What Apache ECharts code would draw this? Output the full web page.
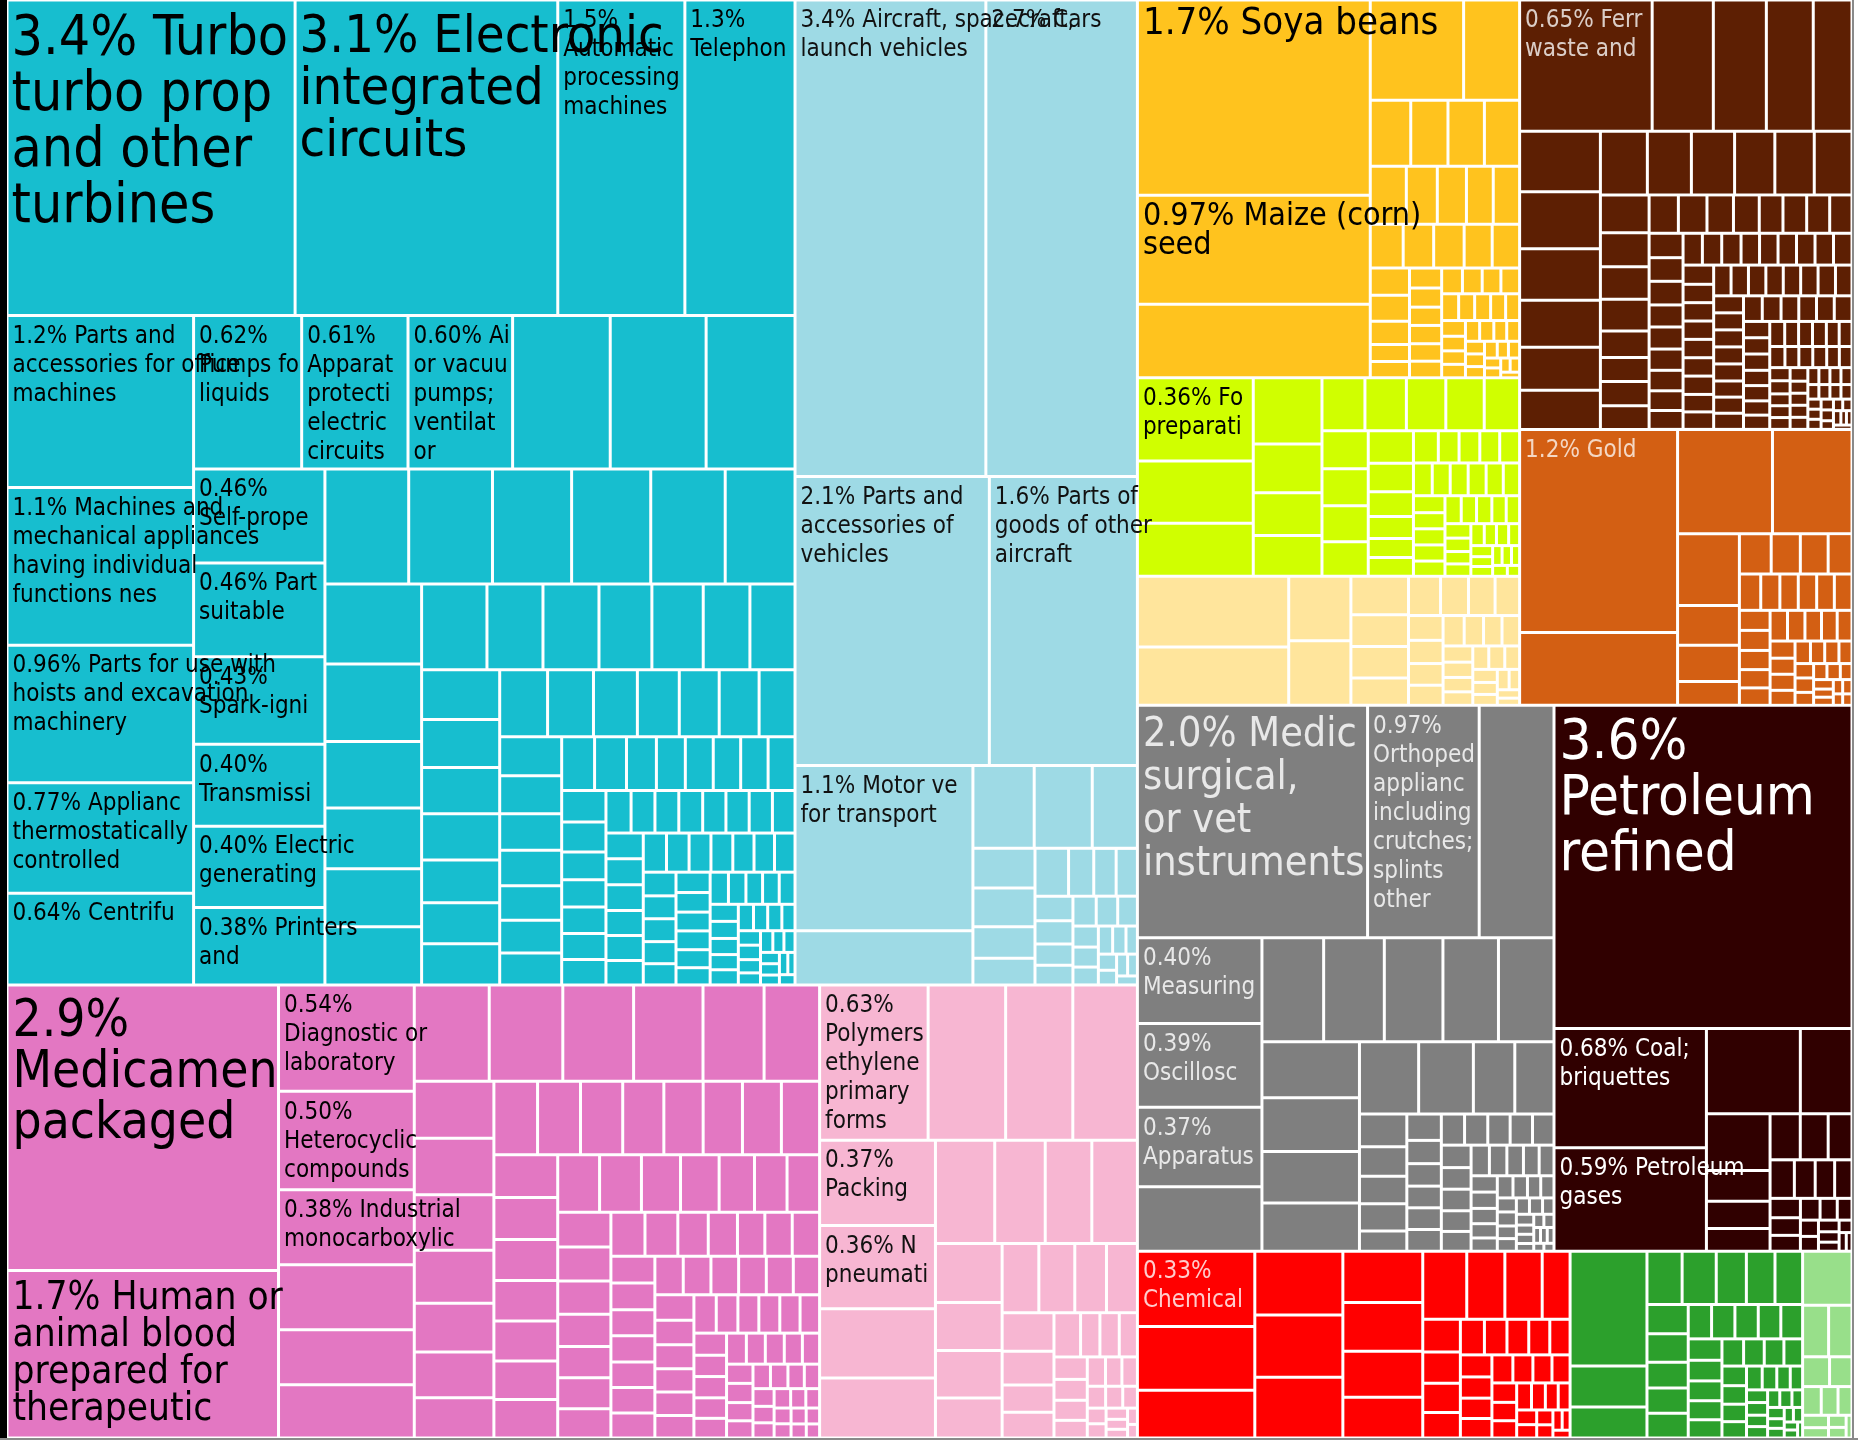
<!DOCTYPE html>
<html><head><meta charset="utf-8">
<script src="https://cdn.jsdelivr.net/npm/echarts@6/dist/echarts.min.js"></script>
<style>
html,body{margin:0;padding:0;background:#fff;}
#chart{position:absolute;left:0;top:0;width:1858px;height:1440px;}
#lb{position:absolute;left:0;top:0;width:7px;height:1440px;background:#000;z-index:5;}
#rb{position:absolute;left:1852px;top:0;width:2px;height:1440px;background:#8a8a8a;z-index:5;}
#bb{position:absolute;left:0;top:1438px;width:1858px;height:2px;background:#8a8a8a;z-index:5;}
</style></head><body>
<div id="chart"></div><div id="lb"></div><div id="rb"></div><div id="bb"></div>
<script>
// ---------- DATA (values = % of total exports; labeled cells first) ----------
const machineryNames = ['3.4% Turbo-jets,\nturbo propellers\nand other gas\nturbines','3.1% Electronic\nintegrated\ncircuits','1.5%\nAutomatic data\nprocessing\nmachines','1.3%\nTelephones','1.2% Parts and\naccessories for office\nmachines','1.1% Machines and\nmechanical appliances\nhaving individual\nfunctions nes','0.96% Parts for use with\nhoists and excavation\nmachinery','0.77% Appliances\nthermostatically\ncontrolled','0.64% Centrifuges','0.62%\nPumps for\nliquids','0.61%\nApparatus for\nprotecting\nelectrical\ncircuits','0.60% Air\nor vacuum\npumps;\nventilating\nor','0.46%\nSelf-propelled','0.46% Parts\nsuitable','0.43%\nSpark-ignition','0.40%\nTransmission','0.40% Electric\ngenerating','0.38% Printers\nand'];
const machineryValues = [3.4,3.1,1.5,1.3,1.2,1.1,0.96,0.77,0.64,0.62,0.61,0.60,0.462,0.46,0.43,0.402,0.40,0.38,
 0.56,0.55,0.51,0.36,0.36,0.34,0.34,0.32,0.30,0.29,0.28,0.24,0.22,0.21,0.21,0.21,0.18,0.18,0.17,0.165,0.15,0.145,
 0.145,0.14,0.135,0.135,0.125,0.12,0.12,0.12,0.115,0.11,0.105,0.1,0.1,0.09,0.09,0.088,0.085,0.082,0.08,
 0.076,0.074,0.066,0.064,0.06,0.058,0.056,0.055,0.055,0.054,0.052,0.05,0.046,0.045,0.044,0.043,0.042,0.04,0.038,
 0.038,0.038,0.037,0.037,0.036,0.036,0.035,0.037,0.036,0.036,0.035,0.034,0.034,0.033,0.032,0.032,0.031,
 0.030,0.030,0.029,0.028,0.028,0.027,0.026,0.026,0.025,0.024,0.024,0.023,0.022,0.022,0.021,0.020,0.020,0.019,0.018,0.018,
 0.017,0.016,0.016,0.015,0.014,0.014,0.013,0.012,0.012,0.011,0.010,0.010,0.009,0.009,0.008,0.008,0.007,0.007,0.006,0.006];

const transportNames = ['3.4% Aircraft, spacecraft,\nlaunch vehicles','2.7% Cars','2.1% Parts and\naccessories of the\nvehicles','1.6% Parts of\ngoods of other\naircraft','1.1% Motor vehicles\nfor transporting goods'];
const transportValues = [3.4,2.7,2.1,1.6,1.1,0.36,0.19,0.18,0.14,0.092,0.09,0.073,0.062,0.06,0.045,
 0.04,0.038,0.035,0.033,0.03,0.028,0.026,0.024,0.022,0.02,0.019,0.017,0.015,0.014,0.012,0.011,0.01,0.009,0.008,0.007];

const chemicalNames = ['2.9%\nMedicaments,\npackaged','1.7% Human or\nanimal blood\nprepared for\ntherapeutic','0.54%\nDiagnostic or\nlaboratory\nreagents','0.50%\nHeterocyclic\ncompounds','0.38% Industrial\nmonocarboxylic'];
const chemicalValues = [2.9,1.7,0.54,0.50,0.38,0.33,0.28,0.27,0.27,0.265,0.255,0.25,0.22,0.2,
 0.17,0.168,0.165,0.158,0.145,0.136,0.12,0.12,0.118,0.116,0.113,0.108,0.108,0.107,
 0.105,0.102,0.1,0.098,0.097,0.095,0.092,0.092,0.09,0.09,0.084,0.083,0.076,0.07,
 0.07,0.069,0.068,0.066,0.064,0.062,0.062,0.058,0.056,0.054,0.05,0.048,0.045,
 0.045,0.045,0.044,0.043,0.042,0.041,0.04,0.044,0.043,0.042,0.041,0.04,0.04,0.039,0.038,0.037,0.036,
 0.035,0.034,0.034,0.033,0.032,0.031,0.03,0.03,0.029,0.028,0.027,0.026,0.026,0.025,0.024,0.023,0.022,0.022,0.021,0.02,
 0.019,0.019,0.018,0.017,0.016,0.016,0.015,0.014,0.014,0.013,0.012,0.012,0.011,0.01,0.01,0.009,0.009,0.008,0.008,0.007];

const plasticNames = ['0.63%\nPolymers of\nethylene, in\nprimary\nforms','0.37%\nPacking','0.36% New\npneumatic tyres'];
const plasticValues = [0.63,0.37,0.36,0.45,0.39,0.375,0.30,0.26,0.229,0.195,0.18,0.176,0.147,0.12,0.118,0.1,0.095,0.093,
 0.082,0.08,0.075,0.065,0.053,0.05,0.044,0.032,0.032,
 0.03,0.028,0.026,0.025,0.022,0.02,0.018,0.017,0.015,0.014,0.012,0.011,0.01,0.009,0.008,0.007,0.006,0.005];

const vegetableNames = ['1.7% Soya beans','0.97% Maize (corn)\nseed'];
const vegetableValues = [1.7,0.95,0.64,0.35,0.21,0.1,0.092,0.09,0.087,0.078,0.067,0.063,0.058,0.057,0.054,0.05,0.05,0.046,0.045,0.04,0.038,0.034,0.025,
 0.024,0.024,0.023,0.022,0.022,0.021,0.02,0.02,0.019,0.018,0.018,0.017,0.016,0.016,0.015,0.014,0.014,0.013,0.012,0.012,
 0.011,0.011,0.01,0.01,0.009,0.009,0.008,0.008,0.007,0.007,0.006,0.006,0.005,0.005,0.004];

const foodNames = ['0.36% Food\npreparations'];
const foodValues = [0.36,0.27,0.23,0.17,0.125,0.11,0.105,0.085,0.082,0.078,0.076,0.07,0.066,0.064,0.062,0.06,0.055,0.048,0.042,0.037,0.032,0.032,0.03,0.025,
 0.025,0.024,0.024,0.023,0.022,0.022,0.022,0.021,0.02,0.02,0.019,0.019,0.019,0.018,0.017,
 0.016,0.016,0.015,0.014,0.014,0.013,0.012,0.012,0.011,0.01,0.01,0.009,0.009,0.008,0.008,0.007,0.007,0.006,0.006,0.005];

const animalNames = [];
const animalValues = [0.40,0.33,0.15,0.15,0.083,0.068,0.068,0.059,0.047,0.041,0.039,0.036,0.032,0.03,
 0.028,0.026,0.024,0.022,0.021,0.02,0.018,0.017,0.016,0.015,0.014,0.014,0.013,0.012,0.011,0.01,0.009,0.008,0.007,0.006];

const metalNames = ['0.65% Ferrous\nwaste and scrap'];
const metalValues = [0.65,0.30,0.26,0.23,0.19,0.183,0.172,0.156,0.142,0.13,0.118,0.112,0.105,0.103,0.096,0.094,
 0.09,0.069,0.062,0.059,0.058,0.048,0.044,0.044,0.043,0.042,0.041,0.038,0.037,0.034,0.034,0.033,0.032,0.031,0.03,0.03,0.028,0.022,
 0.028,0.027,0.026,0.025,0.024,0.023,0.022,
 0.023,0.023,0.022,0.022,0.021,0.02,0.02,0.019,0.022,0.022,0.022,0.021,0.021,0.021,0.02,0.02,0.02,0.02,0.019,0.019,0.019,0.018,0.018,0.018,0.017,0.017,
 0.021,0.021,0.02,0.02,0.02,0.019,0.019,0.018,0.018,0.017,0.017,0.016,0.016,0.016,0.015,0.015,0.014,0.014,0.014,0.013,
 0.013,0.013,0.012,0.012,0.012,0.011,0.011,0.011,0.01,0.01,0.01,0.01,0.009,0.009,0.009,0.009,0.008,0.008,0.008,0.008,
 0.007,0.007,0.007,0.007,0.006,0.006,0.006,0.006,0.005,0.005,0.005,0.005,0.005,0.004,0.004,0.004,0.004,0.003,0.003,0.003];

const preciousNames = ['1.2% Gold'];
const preciousValues = [1.2,0.43,0.37,0.31,0.166,0.092,0.084,0.055,0.048,0.044,0.042,0.036,0.029,0.026,0.025,
 0.025,0.024,0.023,0.02,0.024,0.023,0.022,0.021,0.02,0.02,0.019,0.018,0.017,0.016,0.015,0.015,0.014,0.013,0.012,0.012,0.011,0.01,0.01,0.009,
 0.008,0.008,0.007,0.007,0.006,0.006,0.005,0.005,0.004,0.004];

const instrumentNames = ['2.0% Medical,\nsurgical, dental\nor vet\ninstruments','0.97%\nOrthopedic\nappliances,\nincluding\ncrutches;\nsplints and\nother','0.40%\nMeasuring','0.39%\nOscilloscopes','0.37%\nApparatus'];
const instrumentValues = [2.0,0.97,0.40,0.39,0.37,0.65,0.30,0.24,0.236,0.228,0.216,0.216,0.204,0.196,0.188,0.176,0.16,0.148,0.112,0.106,
 0.058,0.052,0.049,0.048,0.036,0.034,0.03,0.029,0.028,
 0.028,0.028,0.027,0.026,0.025,0.024,0.027,0.026,0.025,0.024,0.023,0.022,0.021,0.02,0.019,0.018,
 0.017,0.016,0.016,0.015,0.014,0.013,0.013,0.012,0.011,0.011,0.01,0.01,0.009,0.009,0.008,0.008,0.007,0.007,0.006,0.006,
 0.005,0.005,0.005,0.004,0.004,0.004,0.003,0.003];

const mineralNames = ['3.6%\nPetroleum oils,\nrefined','0.68% Coal;\nbriquettes','0.59% Petroleum\ngases'];
const mineralValues = [3.6,0.68,0.59,0.30,0.165,0.135,0.073,0.065,0.054,0.052,0.048,0.041,
 0.035,0.03,0.028,0.025,0.022,0.02,0.018,0.016,0.014,0.012,0.011,0.01,0.009,0.008,0.007,0.006,0.005,0.004];

const paperNames = ['0.33%\nChemical'];
const paperValues = [0.33,0.28,0.21,0.21,0.205,0.2,0.153,0.146,0.137,0.122,0.112,0.097,0.095,0.071,0.046,0.044,0.041,0.036,0.032,0.03,
 0.029,0.028,0.027,0.026,0.025,0.024,0.023,0.022,0.021,0.02,0.019,0.018,0.017,0.016,0.015,0.014,0.013,0.012,0.011,0.01,
 0.009,0.008,0.007,0.006,0.005];

const textileNames = [];
const textileValues = [0.33,0.118,0.089,0.07,0.068,0.06,0.057,0.055,0.045,0.044,0.04,0.039,0.038,0.03,
 0.03,0.03,0.029,0.028,0.027,0.026,0.025,0.024,0.023,0.022,0.021,0.02,0.019,0.018,0.017,0.016,0.015,0.014,0.013,0.012,0.011,0.01,
 0.01,0.009,0.009,0.008,0.008,0.007,0.007,0.006,0.006,0.005,0.005,0.004,0.004,0.003];

const footwearNames = [];
const footwearValues = [0.1,0.05,0.045,0.03,0.025,0.02,0.018,0.015,0.012,0.01,0.008,0.007,0.005];

// ---------- STYLES ----------
const FONT = "'DejaVu Sans Condensed', 'DejaVu Sans', sans-serif";
const COLORS = {
  machinery:'#17becf', transport:'#9edae5', chemical:'#e377c2', plastic:'#f7b6d2',
  vegetable:'#ffc31e', food:'#d0ff00', animal:'#ffe59c', metal:'#5d1f03', precious:'#d35f13',
  instrument:'#7f7f7f', mineral:'#300000', paper:'#ff0000', textile:'#2ca02c', footwear:'#98df8a'
};
const TEXT = {
  machinery:'#000', transport:'#111', chemical:'#000', plastic:'#111', vegetable:'#000', food:'#000', animal:'#000',
  metal:'rgba(255,255,255,0.78)', precious:'rgba(255,255,255,0.75)', instrument:'#e8e8e8', mineral:'#fff',
  paper:'rgba(255,255,255,0.8)', textile:'#fff', footwear:'#000'
};
// per-label overrides: [fontSize, lineHeight, padTop, padLeft, overflow]
const LABEL_OVERRIDES = {
  machinery: {0:[55,56,10,3,'truncate'], 1:[52,52,11,3,'none'], 4:[,,,,'none'], 5:[,,,,'none'], 6:[,,,,'none'], 16:[,,,,'none'], 17:[,,,,'none']},
  transport: {0:[,,,,'none'], 3:[,,,,'none']},
  chemical: {0:[51,51,11,4,'truncate'], 1:[38.5,37,8,4,'none'], 2:[,,,,'none'], 3:[,,,,'none'], 4:[,,,,'none']},
  vegetable: {0:[38,38,4,4,'none'], 1:[32,29,5,4,'none']},
  instrument: {0:[41,43,7,4,'truncate']},
  mineral: {0:[56,56,9,4,'truncate'], 2:[,,,,'none']}
};
const SMALL_FONT = 24, SMALL_LH = 29, SMALL_PAD = 5;

function buildGroup(key, names, values) {
  const ov = LABEL_OVERRIDES[key] || {};
  return {
    name: key,
    itemStyle: {borderWidth: 0, gapWidth: 0},
    children: values.map(function (v, i) {
      const node = {name: i < names.length ? names[i] : '', value: v,
        itemStyle: {color: COLORS[key], borderColor: '#fff', borderWidth: 1.5}};
      if (i < names.length) {
        const o = ov[i] || [];
        node.label = {
          show: true, position: 'insideTopLeft', distance: 0,
          fontFamily: FONT, color: TEXT[key],
          fontSize: o[0] || SMALL_FONT, lineHeight: o[1] || SMALL_LH,
          padding: [o[2] != null ? o[2] : SMALL_PAD, 0, 0, o[3] != null ? o[3] : 4],
          overflow: o[4] || 'truncate', ellipsis: ''
        };
      } else {
        node.label = {show: false};
      }
      return node;
    })
  };
}
function block(name, children) {
  return {name: name, itemStyle: {borderWidth: 0, gapWidth: 0}, children: children};
}

const treeData = [
  block('Machinery & Transportation', [buildGroup('machinery', machineryNames, machineryValues), buildGroup('transport', transportNames, transportValues)]),
  block('Chemicals & Plastics', [buildGroup('chemical', chemicalNames, chemicalValues), buildGroup('plastic', plasticNames, plasticValues)]),
  block('Agriculture', [buildGroup('vegetable', vegetableNames, vegetableValues), buildGroup('food', foodNames, foodValues), buildGroup('animal', animalNames, animalValues)]),
  block('Metals', [buildGroup('metal', metalNames, metalValues), buildGroup('precious', preciousNames, preciousValues)]),
  buildGroup('instrument', instrumentNames, instrumentValues),
  buildGroup('mineral', mineralNames, mineralValues),
  block('Other', [buildGroup('paper', paperNames, paperValues), buildGroup('textile', textileNames, textileValues), buildGroup('footwear', footwearNames, footwearValues)])
];

const chart = echarts.init(document.getElementById('chart'), null, {renderer: 'canvas'});
chart.setOption({
  animation: false,
  backgroundColor: '#fff',
  series: [{
    type: 'treemap',
    left: 7, top: 0, right: 6, bottom: 2,
    roam: false, nodeClick: false,
    breadcrumb: {show: false},
    visibleMin: 1,
    itemStyle: {borderWidth: 0, gapWidth: 0, borderColor: '#fff'},
    label: {show: false},
    upperLabel: {show: false},
    emphasis: {disabled: true},
    data: treeData
  }]
});
</script></body></html>
